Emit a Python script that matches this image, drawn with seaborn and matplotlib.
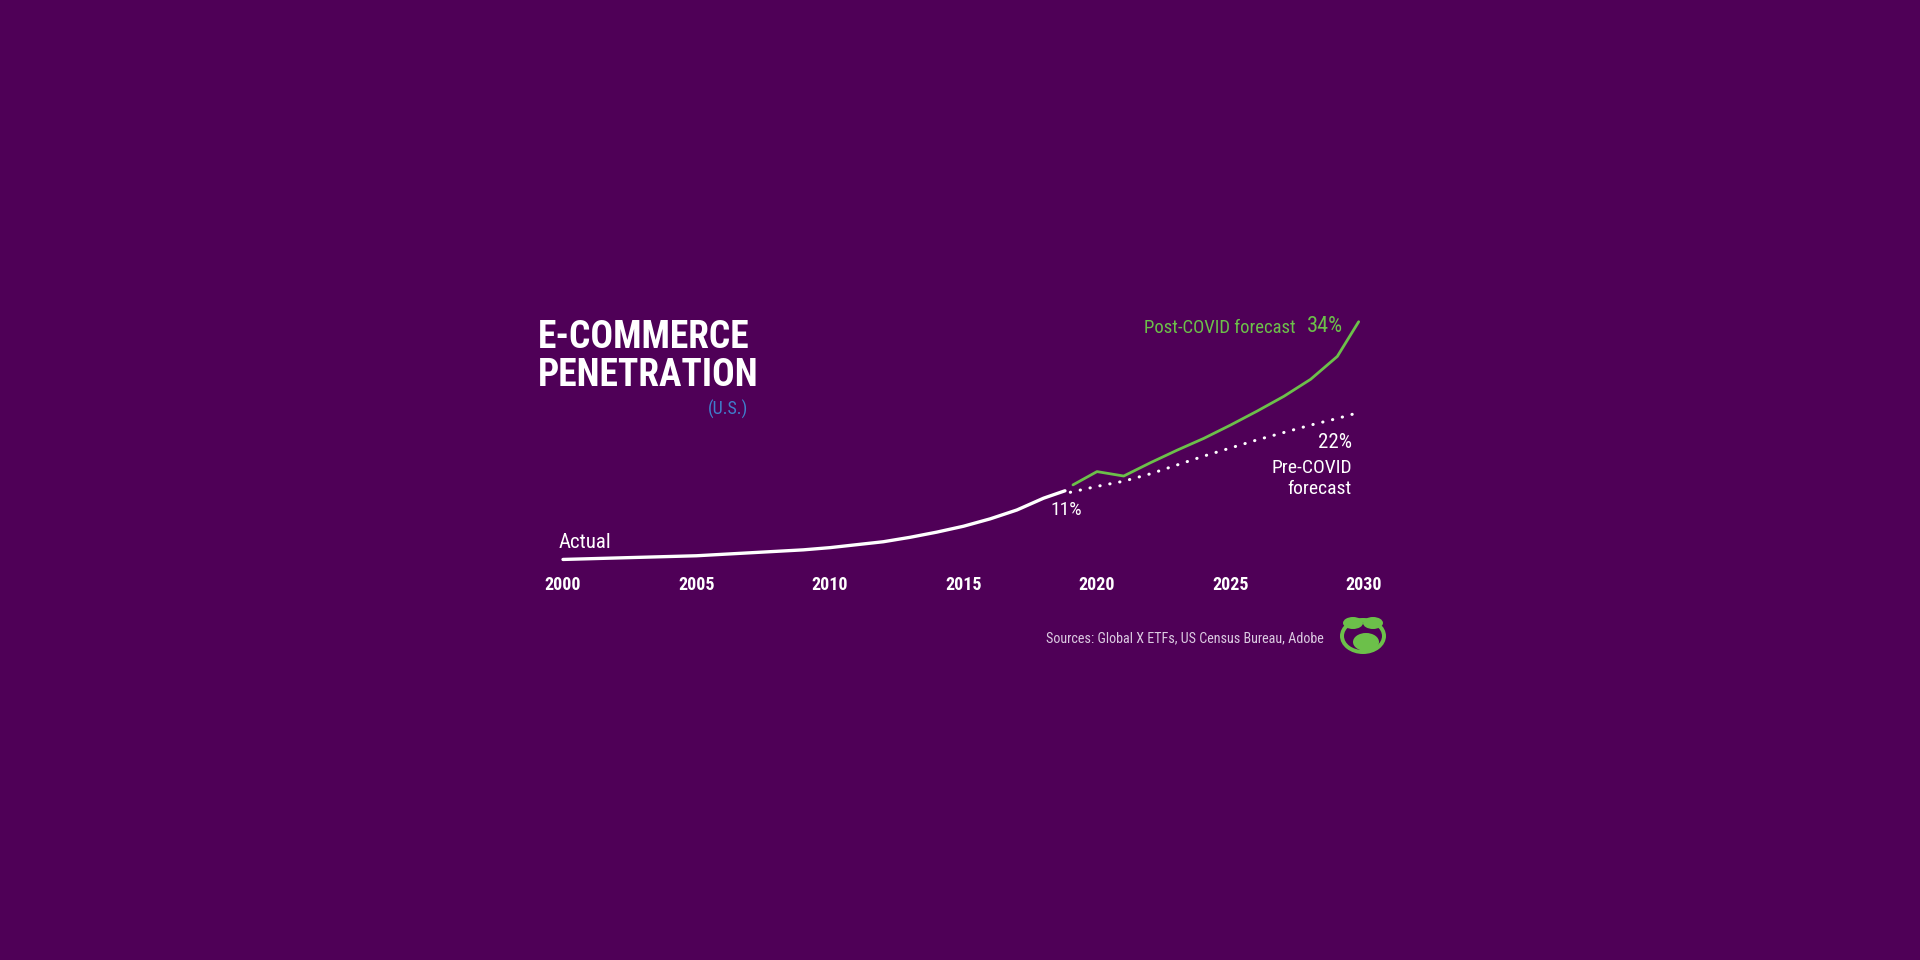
import numpy as np
import pandas as pd
import matplotlib
matplotlib.use("Agg")
import matplotlib.pyplot as plt
import seaborn as sns
from matplotlib.patches import Ellipse

# --- data (e-commerce share of US retail sales, %) ---
actual_years = [2000, 2001, 2002, 2003, 2004, 2005, 2006, 2007, 2008, 2009,
                2010, 2011, 2012, 2013, 2014, 2015, 2016, 2017, 2018, 2018.8]
actual_share = [1.7, 1.8, 1.9, 2.0, 2.1, 2.2, 2.4, 2.6, 2.8, 3.0,
                3.3, 3.7, 4.1, 4.7, 5.4, 6.2, 7.2, 8.4, 10.0, 11.0]

pre_years = [2019, 2020, 2021, 2022, 2023, 2024, 2025, 2026, 2027, 2028, 2029, 2029.6]
pre_share = [10.8, 11.6, 12.3, 13.3, 14.5, 15.7, 16.8, 17.9, 18.9, 19.9, 20.8, 21.4]

post_years = [2019.1, 2020, 2021, 2022, 2023, 2024, 2025, 2026, 2027, 2028, 2029, 2029.8]
post_share = [11.8, 13.6, 13.0, 14.8, 16.5, 18.1, 19.9, 21.8, 23.8, 26.1, 29.2, 33.9]

tick_years = [2000, 2005, 2010, 2015, 2020, 2025, 2030]

BG = "#4f0057"
GREEN = "#6cc04a"
BLUE = "#3f7fcc"
WHITE = "#ffffff"
SOFT = "#dccbe2"

sns.set_theme(style="white")
plt.rcParams["font.family"] = ["Roboto Condensed", "DejaVu Sans"]
plt.rcParams["font.stretch"] = "condensed"

W, H = 1920, 960
fig = plt.figure(figsize=(W / 100, H / 100), dpi=100, facecolor=BG)

# axes placed so that 2000 -> 563px, 2030 -> 1364px, 0% -> 572px, 34% -> 321px
x0, x1 = 563, 1364
y0, y1 = 572, 321
ax = fig.add_axes([x0 / W, 1 - y0 / H, (x1 - x0) / W, (y0 - y1) / H])
ax.set_facecolor(BG)
ax.patch.set_alpha(0)

df_actual = pd.DataFrame({"year": actual_years, "share": actual_share})
df_pre = pd.DataFrame({"year": pre_years, "share": pre_share})
df_post = pd.DataFrame({"year": post_years, "share": post_share})

sns.lineplot(data=df_actual, x="year", y="share", ax=ax, color=WHITE,
             linewidth=2.4, clip_on=False)
sns.lineplot(data=df_pre, x="year", y="share", ax=ax, color=WHITE,
             linewidth=2.2, linestyle=(0, (0.1, 3.2)), clip_on=False,
             dash_capstyle="round")
sns.lineplot(data=df_post, x="year", y="share", ax=ax, color=GREEN,
             linewidth=2.0, clip_on=False)

ax.set_xlim(2000, 2030)
ax.set_ylim(0, 34)
ax.set_xticks(tick_years)
ax.set_xticklabels([str(t) for t in tick_years], color=WHITE, fontsize=13,
                   fontweight="bold")
ax.tick_params(axis="x", length=0, pad=3)
ax.set_yticks([])
ax.set_xlabel("")
ax.set_ylabel("")
for s in ax.spines.values():
    s.set_visible(False)


# annotations (figure pixel coordinates)
def ftext(px, py, s, **kw):
    fig.text(px / W, 1 - py / H, s, **kw)


ftext(538, 337, "E-COMMERCE", color=WHITE, fontsize=27, fontweight="bold",
      ha="left", va="center")
ftext(538, 375, "PENETRATION", color=WHITE, fontsize=27, fontweight="bold",
      ha="left", va="center")
ftext(748, 409, "(U.S.)", color=BLUE, fontsize=13, ha="right", va="center")

ftext(559, 542, "Actual", color=WHITE, fontsize=15, ha="left", va="center")
ftext(1066, 510, "11%", color=WHITE, fontsize=14, ha="center", va="center")

ftext(1296, 328, "Post-COVID forecast", color=GREEN, fontsize=13.5,
      ha="right", va="center")
ftext(1343, 327, "34%", color=GREEN, fontsize=16, ha="right", va="center")

ftext(1352, 442, "22%", color=WHITE, fontsize=15, ha="right", va="center")
ftext(1352, 468, "Pre-COVID", color=WHITE, fontsize=14, ha="right", va="center")
ftext(1352, 489, "forecast", color=WHITE, fontsize=14, ha="right", va="center")

ftext(1324, 638, "Sources: Global X ETFs, US Census Bureau, Adobe", color=SOFT,
      fontsize=10.2, ha="right", va="center")

# small logo mark
lax = fig.add_axes([1338 / W, 1 - 656 / H, 50 / W, 42 / H])
lax.set_xlim(0, 50)
lax.set_ylim(0, 42)
lax.axis("off")
lax.add_patch(Ellipse((25, 20), 46, 36, facecolor=GREEN, edgecolor="none"))
lax.add_patch(Ellipse((25, 20), 38, 28, facecolor=BG, edgecolor="none"))
lax.add_patch(Ellipse((15, 33), 20, 12, facecolor=GREEN, edgecolor="none"))
lax.add_patch(Ellipse((35, 33), 20, 12, facecolor=GREEN, edgecolor="none"))
lax.add_patch(Ellipse((28, 14), 26, 18, facecolor=GREEN, edgecolor="none"))

fig.savefig("out.png", dpi=100, facecolor=BG)
